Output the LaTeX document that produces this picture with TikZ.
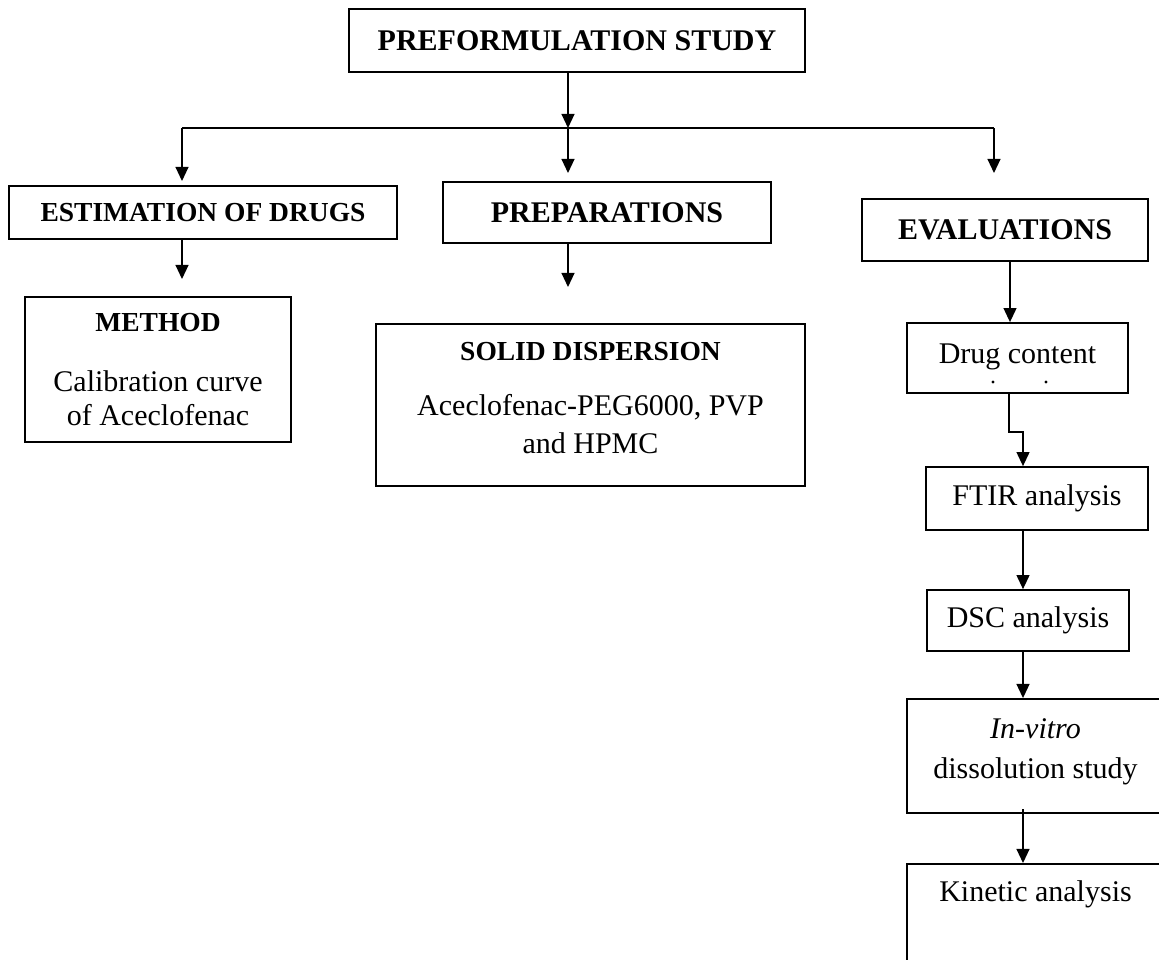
\documentclass[tikz,border=0pt]{standalone}
\usepackage{fontspec}
\setmainfont{Liberation Serif}
\usetikzlibrary{arrows.meta}

\begin{document}
\begin{tikzpicture}[x=0.44pt, y=-0.44pt,
      font=\fontsize{13.2}{15}\selectfont,
      b/.style={draw, line width=0.8pt, align=center, inner sep=0pt},
      h/.style={b, font=\fontsize{13.2}{15}\selectfont\bfseries},
      hs/.style={b, font=\fontsize{12.1}{15}\selectfont\bfseries},
      a/.style={-{Triangle[length=6.2pt,width=5.7pt]}, line width=0.65pt},
    ]
    \useasboundingbox (0,0) rectangle (1159,959);
    \clip (0,0) rectangle (1159,959);
    % top
    \node[h, minimum width=200.6pt, minimum height=27.7pt] (pre) at (577,40.5) {PREFORMULATION STUDY};
    % three branches
    \node[hs, minimum width=170.7pt, minimum height=23.3pt] (est)  at (203,212.5) {ESTIMATION OF DRUGS};
    \node[h,  minimum width=144.3pt, minimum height=26.8pt] (prep) at (607,212.5) {PREPARATIONS};
    \node[h,  minimum width=125.8pt, minimum height=27.3pt] (eval) at (1005,230)  {EVALUATIONS};
    % below the branches
    \node[b, minimum width=117pt, minimum height=63.8pt] (meth) at (158,369.5)
         {{\fontsize{12.1}{15}\selectfont\bfseries METHOD}\\[11.4pt]Calibration curve\\of Aceclofenac};
    \node[b, minimum width=188.8pt, minimum height=71.3pt, text depth=6.6pt] (sd) at (590.5,405)
         {{\fontsize{12.1}{15}\selectfont\bfseries SOLID DISPERSION}\\[9.2pt]Aceclofenac-PEG6000, PVP\\[1.7pt]and HPMC};
    % evaluation chain
    \node[b, minimum width=97.2pt, minimum height=30.8pt, text height=7.3pt] (drug) at (1017.5,358) {Drug content};
    \fill (993,382) circle (1.6) (1046,382) circle (1.6); % clipped second line
    \node[b, minimum width=97.7pt, minimum height=27.7pt] (ftir) at (1037,498.5) {FTIR analysis};
    \node[b, minimum width=88.9pt, minimum height=26.8pt] (dsc)  at (1028,620.5) {DSC analysis};
    \node[b, minimum width=113.1pt, minimum height=50.2pt, text depth=6.9pt] (vit) at (1035.5,756)
         {{\itshape In-vitro}\\[2.6pt]dissolution study};
    \node[b, minimum width=113.1pt, minimum height=66pt, text depth=42.5pt, anchor=north] (kin) at (1035.5,863)
         {Kinetic analysis};

    % junctions and free ends
    \coordinate (jl) at (182,128);
    \coordinate (jm) at (568,128);
    \coordinate (jr) at (994,128);
    \coordinate (tl) at (182,181);
    \coordinate (tm) at (568,173);
    \coordinate (tr) at (994,173);
    \coordinate (em) at (182,279);
    \coordinate (pm) at (568,287);

    \draw[a] (568,0 |- pre.south) -- (jm);
    \draw[line width=0.65pt] (jl) -- (jr);
    \draw[a] (jl) -- (tl);
    \draw[a] (jm) -- (tm);
    \draw[a] (jr) -- (tr);
    \draw[a] (182,0 |- est.south) -- (em);
    \draw[a] (568,0 |- prep.south) -- (pm);
    \draw[a] (1010,0 |- eval.south) -- (1010,0 |- drug.north);
    \draw[a] (1009,0 |- drug.south) -- (1009,432) -- (1023,432) -- (1023,0 |- ftir.north);
    \draw[a] (1023,0 |- ftir.south) -- (1023,0 |- dsc.north);
    \draw[a] (1023,0 |- dsc.south) -- (1023,0 |- vit.north);
    \draw[a] (1023,809) -- (1023,0 |- kin.north);
\end{tikzpicture}
\end{document}
